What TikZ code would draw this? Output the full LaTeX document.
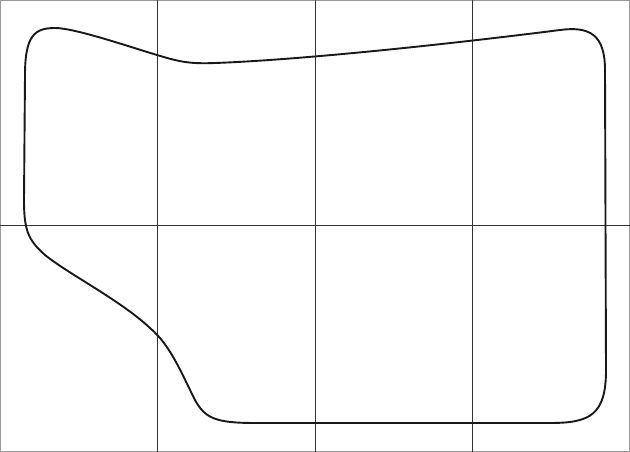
\documentclass[tikz,border=0pt]{standalone}
\begin{document}
\begin{tikzpicture}[x=1pt,y=-1pt,
  gridline/.style={draw=black!80,line width=0.9pt},
  frameline/.style={draw=black!40,line width=1pt},
  outline/.style={draw=black!90,line width=1.9pt,line join=round}]
\useasboundingbox (0,0) rectangle (630,452);
\fill[white] (0,0) rectangle (630,452);
\draw[frameline] (0.5,0.5) rectangle (629.5,451.5);
\coordinate (v1t) at (157,0); \coordinate (v1b) at (157,452);
\coordinate (v2t) at (315,0); \coordinate (v2b) at (315,452);
\coordinate (v3t) at (472,0); \coordinate (v3b) at (472,452);
\coordinate (hl) at (0,225); \coordinate (hr) at (630,225);
\draw[gridline] (v1t) -- (v1b);
\draw[gridline] (v2t) -- (v2b);
\draw[gridline] (v3t) -- (v3b);
\draw[gridline] (hl) -- (hr);
\draw[outline] (24,200) -- (25,75)
  .. controls (25,35) and (35,28) .. (55,28)
  .. controls (75,28) and (130,47) .. (157,55)
  .. controls (180,62) and (190,64) .. (215,63)
  .. controls (300,60) and (450,44) .. (560,30)
  .. controls (590,26) and (605,35) .. (605,70)
  -- (606,370)
  .. controls (606,415) and (590,423) .. (550,423)
  -- (255,423)
  .. controls (215,423) and (205,418) .. (195,400)
  .. controls (180,370) and (170,345) .. (150,328)
  .. controls (120,300) and (70,275) .. (45,255)
  .. controls (28,240) and (24,230) .. (24,200) -- cycle;
\end{tikzpicture}
\end{document}
